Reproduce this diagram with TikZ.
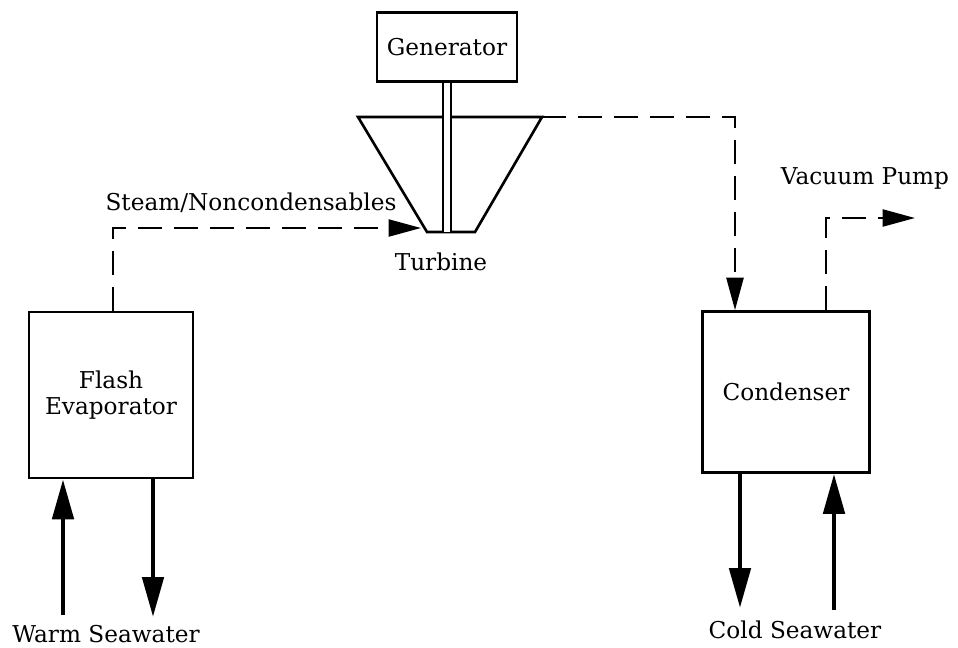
\documentclass[tikz,border=0pt]{standalone}
\usepackage{fontspec}
\setmainfont{DejaVu Serif}
\usepackage{tikz}
\usetikzlibrary{arrows.meta, positioning}

\begin{document}
\begin{tikzpicture}[
  x=0.2mm, y=-0.2mm,
  font=\fontsize{13.2}{15}\selectfont,
  unit/.style={rectangle, draw=black, line width=1.5pt, align=center, inner sep=2pt},
  flow/.style={-{Triangle[length=8mm, width=4.2mm]}, line width=2.8pt},
  vapour/.style={-{Triangle[length=6.5mm, width=3.4mm]}, line width=1.4pt,
                 dash pattern=on 4.8mm off 2.4mm},
  lbl/.style={inner sep=0pt}
]
\useasboundingbox (0,0) rectangle (958,647);

% main units
\node[unit, minimum width=2.8cm, minimum height=1.38cm] (gen) at (447,47) {Generator};
\node[unit, minimum width=3.28cm, minimum height=3.32cm] (flash) at (111,395) {Flash\\Evaporator};
\node[unit, minimum width=3.34cm, minimum height=3.22cm] (cond) at (786,392) {Condenser};

% turbine outline
\coordinate (tb-tl) at (358,117);
\coordinate (tb-tr) at (542,117);
\coordinate (tb-br) at (475,232);
\coordinate (tb-bl) at (427,232);
\draw[line width=1.5pt, line join=miter] (tb-tl) -- (tb-tr) -- (tb-br) -- (tb-bl) -- cycle;
\node[lbl] (turb) at (441,262) {Turbine};

% shaft
\draw[line width=1.2pt, double distance=3.5pt] (gen.south) -- (gen.south |- tb-bl);

% steam path
\coordinate (steam-turn) at (113,228);
\coordinate (tb-in) at (421,228);
\node[lbl] (steam) at (251,203) {Steam/Noncondensables};
\draw[vapour] (steam-turn |- flash.north) -- (steam-turn) -- (tb-in);

% exhaust to condenser
\coordinate (exh-turn) at (735,117);
\draw[vapour] (tb-tr) -- (exh-turn) -- (exh-turn |- cond.north);

% vacuum pump
\coordinate (vac-turn) at (826,218);
\coordinate (vac-end) at (915,218);
\node[lbl] (vac) at (865,178) {Vacuum Pump};
\draw[vapour] (vac-turn |- cond.north) -- (vac-turn) -- (vac-end);

% seawater
\coordinate (warm-in) at (63,615);
\coordinate (warm-out) at (153,617);
\coordinate (cold-out) at (740,608);
\coordinate (cold-in) at (834,610);
\node[lbl] (warm) at (106,634) {Warm Seawater};
\node[lbl] (cold) at (795,630) {Cold Seawater};
\draw[flow] (warm-in) -- (warm-in |- flash.south);
\draw[flow] (warm-out |- flash.south) -- (warm-out);
\draw[flow] (cold-out |- cond.south) -- (cold-out);
\draw[flow] (cold-in) -- (cold-in |- cond.south);
\end{tikzpicture}
\end{document}
